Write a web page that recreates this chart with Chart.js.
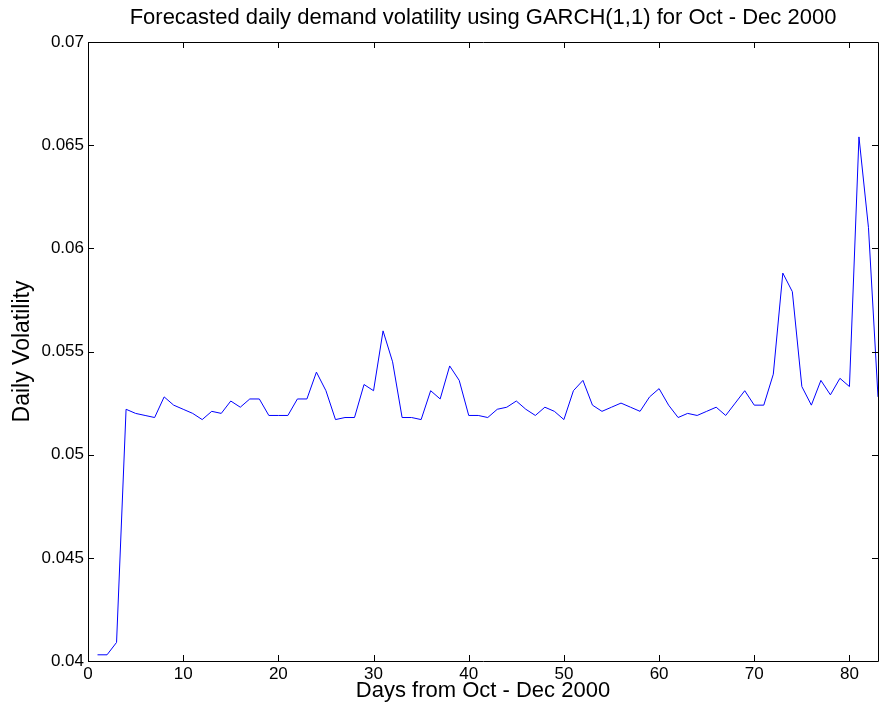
<!DOCTYPE html>
<html>
<head>
<meta charset="utf-8">
<title>GARCH(1,1) volatility forecast</title>
<script src="https://cdn.jsdelivr.net/npm/chart.js@4/dist/chart.umd.min.js"></script>
<style>
  html, body { margin: 0; padding: 0; background: #fff; }
  #wrap { width: 886px; height: 707px; position: relative; }
</style>
</head>
<body>
<div id="wrap"><canvas id="chart"></canvas></div>
<script>
// Day index (x) and forecasted volatility (y)
const days = [
  1, 2, 3, 4, 5, 6, 7, 8, 9, 10,
  11, 12, 13, 14, 15, 16, 17, 18, 19, 20,
  21, 22, 23, 24, 25, 26, 27, 28, 29, 30,
  31, 32, 33, 34, 35, 36, 37, 38, 39, 40,
  41, 42, 43, 44, 45, 46, 47, 48, 49, 50,
  51, 52, 53, 54, 55, 56, 57, 58, 59, 60,
  61, 62, 63, 64, 65, 66, 67, 68, 69, 70,
  71, 72, 73, 74, 75, 76, 77, 78, 79, 80,
  81, 82, 83
];
const volatility = [
  0.0403, 0.0403, 0.0409, 0.0522, 0.0520, 0.0519, 0.0518, 0.0528, 0.0524, 0.0522,
  0.0520, 0.0517, 0.0521, 0.0520, 0.0526, 0.0523, 0.0527, 0.0527, 0.0519, 0.0519,
  0.0519, 0.0527, 0.0527, 0.0540, 0.0531, 0.0517, 0.0518, 0.0518, 0.0534, 0.0531,
  0.0560, 0.0545, 0.0518, 0.0518, 0.0517, 0.0531, 0.0527, 0.0543, 0.0536, 0.0519,
  0.0519, 0.0518, 0.0522, 0.0523, 0.0526, 0.0522, 0.0519, 0.0523, 0.0521, 0.0517,
  0.0531, 0.0536, 0.0524, 0.0521, 0.0523, 0.0525, 0.0523, 0.0521, 0.0528, 0.0532,
  0.0524, 0.0518, 0.0520, 0.0519, 0.0521, 0.0523, 0.0519, 0.0525, 0.0531, 0.0524,
  0.0524, 0.0539, 0.0588, 0.0579, 0.0533, 0.0524, 0.0536, 0.0529, 0.0537, 0.0533,
  0.0654, 0.0610, 0.0528
];
const xTicks = [0, 10, 20, 30, 40, 50, 60, 70, 80];
const yTicks = [0.04, 0.045, 0.05, 0.055, 0.06, 0.065, 0.07];

const FONT = '"Liberation Sans", Arial, Helvetica, sans-serif';

// MATLAB style box with inward ticks on all four sides
const boxTicks = {
  id: 'boxTicks',
  afterDraw(chart) {
    const ctx = chart.ctx;
    const a = chart.chartArea;
    const xs = chart.scales.x, ys = chart.scales.y;
    const len = 6;
    ctx.save();
    ctx.strokeStyle = '#000';
    ctx.lineWidth = 1;
    ctx.beginPath();
    ctx.rect(Math.round(a.left) + 0.5, Math.round(a.top) + 0.5,
             Math.round(a.right - a.left), Math.round(a.bottom - a.top));
    xTicks.forEach(function (v) {
      const px = Math.round(xs.getPixelForValue(v)) + 0.5;
      ctx.moveTo(px, a.bottom); ctx.lineTo(px, a.bottom - len);
      ctx.moveTo(px, a.top); ctx.lineTo(px, a.top + len);
    });
    yTicks.forEach(function (v) {
      const py = Math.round(ys.getPixelForValue(v)) + 0.5;
      ctx.moveTo(a.left, py); ctx.lineTo(a.left + len, py);
      ctx.moveTo(a.right, py); ctx.lineTo(a.right - len, py);
    });
    ctx.stroke();
    ctx.restore();
  }
};

new Chart(document.getElementById('chart'), {
  type: 'scatter',
  data: {
    datasets: [{
      label: 'Daily volatility',
      data: days.map(function (d, i) { return { x: d, y: volatility[i] }; }),
      showLine: true,
      borderColor: '#0000ff',
      borderWidth: 1,
      pointRadius: 0,
      tension: 0
    }]
  },
  options: {
    responsive: true,
    maintainAspectRatio: false,
    animation: false,
    layout: { padding: { top: 0, right: 8, bottom: 0, left: 8 } },
    plugins: {
      legend: { display: false },
      tooltip: { enabled: false },
      title: {
        display: true,
        fullSize: false,
        text: 'Forecasted daily demand volatility using GARCH(1,1) for Oct - Dec 2000',
        color: '#000',
        font: { family: FONT, size: 22, weight: 'normal' },
        padding: { top: 5, bottom: 10.6 }
      }
    },
    scales: {
      x: {
        type: 'linear',
        min: 0,
        max: 83,
        afterBuildTicks: function (s) { s.ticks = xTicks.map(function (v) { return { value: v }; }); },
        afterFit: function (s) { s.height = 46; },
        grid: { display: false, drawTicks: false },
        border: { display: false },
        ticks: {
          color: '#000',
          padding: 3,
          maxRotation: 0,
          font: { family: FONT, size: 17 }
        },
        title: {
          display: true,
          text: 'Days from Oct - Dec 2000',
          color: '#000',
          font: { family: FONT, size: 22 },
          padding: { top: 0, bottom: 3 }
        }
      },
      y: {
        type: 'linear',
        min: 0.04,
        max: 0.07,
        afterBuildTicks: function (s) { s.ticks = yTicks.map(function (v) { return { value: v }; }); },
        afterFit: function (s) { s.width = 80; },
        grid: { display: false, drawTicks: false },
        border: { display: false },
        ticks: {
          color: '#000',
          padding: 4,
          font: { family: FONT, size: 17 },
          callback: function (v) { return String(parseFloat(v.toFixed(3))); }
        },
        title: {
          display: true,
          text: 'Daily Volatility',
          color: '#000',
          font: { family: FONT, size: 23 },
          padding: { top: 1, bottom: 0 }
        }
      }
    }
  },
  plugins: [boxTicks]
});
</script>
</body>
</html>
